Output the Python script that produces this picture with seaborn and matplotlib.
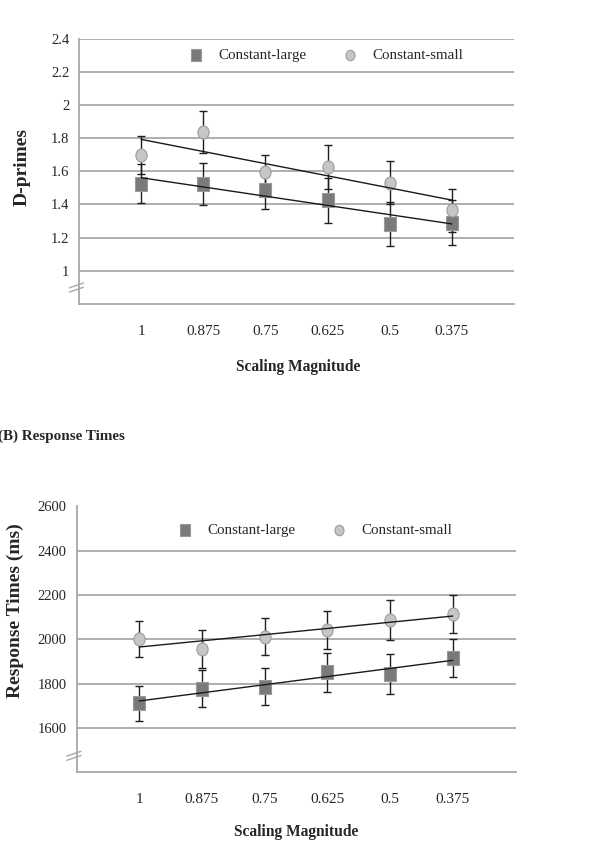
import numpy as np
import pandas as pd
import matplotlib
matplotlib.use("Agg")
import matplotlib.pyplot as plt
from matplotlib.markers import MarkerStyle
from matplotlib.path import Path
from matplotlib.transforms import Affine2D
import seaborn as sns

sns.set_theme(style="white")
plt.rcParams["font.family"] = ["Liberation Serif", "DejaVu Serif"]

# --- data ---------------------------------------------------------------------
scales = ["1", "0.875", "0.75", "0.625", "0.5", "0.375"]

dprime_large = [1.526, 1.521, 1.484, 1.426, 1.284, 1.290]
dprime_large_err = [0.118, 0.126, 0.110, 0.135, 0.133, 0.134]
dprime_small = [1.700, 1.837, 1.594, 1.628, 1.532, 1.364]
dprime_small_err = [0.115, 0.125, 0.104, 0.132, 0.128, 0.130]

rt_large = [1711, 1777, 1786, 1851, 1842, 1916]
rt_large_err = [80, 84, 83, 87, 90, 86]
rt_small = [2001, 1958, 2012, 2042, 2086, 2114]
rt_small_err = [80, 85, 83, 86, 90, 87]

W, H = 609, 857
fig = plt.figure(figsize=(W / 100, H / 100), dpi=100)

GRID = "#a8a8a8"
SQ_FACE, SQ_EDGE = "#7a7a7a", "#9a9a9a"
CI_FACE, CI_EDGE = "#c6c6c6", "#9c9c9c"

# the source figure is slightly narrow, so markers are a bit taller than wide
squeeze = Affine2D().scale(0.86, 1.0)
SQUARE = MarkerStyle(Path([(-1, -1), (1, -1), (1, 1), (-1, 1), (-1, -1)],
                          [1, 2, 2, 2, 79]).transformed(squeeze))
CIRCLE = MarkerStyle(Path.unit_circle().transformed(squeeze))


def px_axes(left, right, top, bottom):
    return fig.add_axes([left / W, 1 - bottom / H, (right - left) / W, (bottom - top) / H])


def panel(ax, large, large_err, small, small_err, ylim, yticks, yfmt):
    df = pd.DataFrame({"pos": np.arange(1, len(scales) + 1),
                       "large": large, "small": small})
    for col, err, marker, face, edge, s, lab in [
        ("large", large_err, SQUARE, SQ_FACE, SQ_EDGE, 100, "Constant-large"),
        ("small", small_err, CIRCLE, CI_FACE, CI_EDGE, 88, "Constant-small"),
    ]:
        ax.errorbar(df["pos"], df[col], yerr=err, fmt="none", ecolor="#1e1e1e",
                    elinewidth=1.0, capsize=2.8, capthick=1.0, zorder=2)
        sns.scatterplot(data=df, x="pos", y=col, marker=marker, s=s, color=face,
                        edgecolor=edge, linewidth=0.8, zorder=3, label=lab, ax=ax)
        sns.regplot(data=df, x="pos", y=col, scatter=False, ci=None, truncate=True,
                    line_kws=dict(color="#1a1a1a", lw=1.0, zorder=4), ax=ax)

    ax.set_xlim(0, 7)
    ax.set_ylim(*ylim)
    ax.set_xticks(range(0, 8))
    ax.set_xticklabels([""] + scales + [""], fontsize=11)
    ax.set_yticks(yticks)
    ax.set_yticklabels([yfmt(v) for v in yticks], fontsize=10.5)
    ax.tick_params(axis="x", direction="out", length=4, width=1, color=GRID, pad=11)
    ax.tick_params(axis="y", direction="out", length=3, width=1, color=GRID, pad=4)
    for v in yticks:
        ax.axhline(v, color=GRID, lw=1.3, zorder=1)
    for side in ["top", "right"]:
        ax.spines[side].set_visible(False)
    for side in ["left", "bottom"]:
        ax.spines[side].set_color(GRID)
        ax.spines[side].set_linewidth(1.3)
    ax.set_xlabel("")
    ax.set_ylabel("")
    # axis break marks
    for dy in (0.0, 0.016):
        ax.plot([-0.022, 0.010], [0.045 + dy, 0.063 + dy], transform=ax.transAxes,
                color=GRID, lw=1.0, clip_on=False)


# --- (A) D-primes -------------------------------------------------------------
ax1 = px_axes(79, 514, 38.5, 304)
panel(ax1, dprime_large, dprime_large_err, dprime_small, dprime_small_err,
      (0.8, 2.4), [1.0, 1.2, 1.4, 1.6, 1.8, 2.0, 2.2, 2.4], lambda v: f"{v:g}")
ax1.legend(loc="center", bbox_to_anchor=(322 / W, 1 - 55.5 / H),
           bbox_transform=fig.transFigure, ncol=2, frameon=False,
           fontsize=10.8, handletextpad=0.5, columnspacing=1.9, markerscale=0.8)

# --- (B) Response times -------------------------------------------------------
ax2 = px_axes(76.5, 515.5, 506.5, 772.3)
panel(ax2, rt_large, rt_large_err, rt_small, rt_small_err,
      (1400, 2600), [1600, 1800, 2000, 2200, 2400, 2600], lambda v: f"{v:d}")
ax2.legend(loc="center", bbox_to_anchor=(311 / W, 1 - 530 / H),
           bbox_transform=fig.transFigure, ncol=2, frameon=False,
           fontsize=10.8, handletextpad=0.5, columnspacing=1.9, markerscale=0.8)

bold = dict(fontweight="bold", ha="center", va="center")
fig.text(22 / W, 1 - 167 / H, "D-primes", rotation=90, fontsize=14, **bold)
fig.text(298 / W, 1 - 367.5 / H, "Scaling Magnitude", fontsize=11.2, **bold)
fig.text(15 / W, 1 - 611 / H, "Response Times (ms)", rotation=90, fontsize=14, **bold)
fig.text(296.5 / W, 1 - 831.5 / H, "Scaling Magnitude", fontsize=11.2, **bold)
fig.text(-2 / W, 1 - 436 / H, "(B) Response Times", fontsize=10.9, fontweight="bold",
         ha="left", va="center")

fig.savefig("out.png", dpi=100, facecolor="white")
